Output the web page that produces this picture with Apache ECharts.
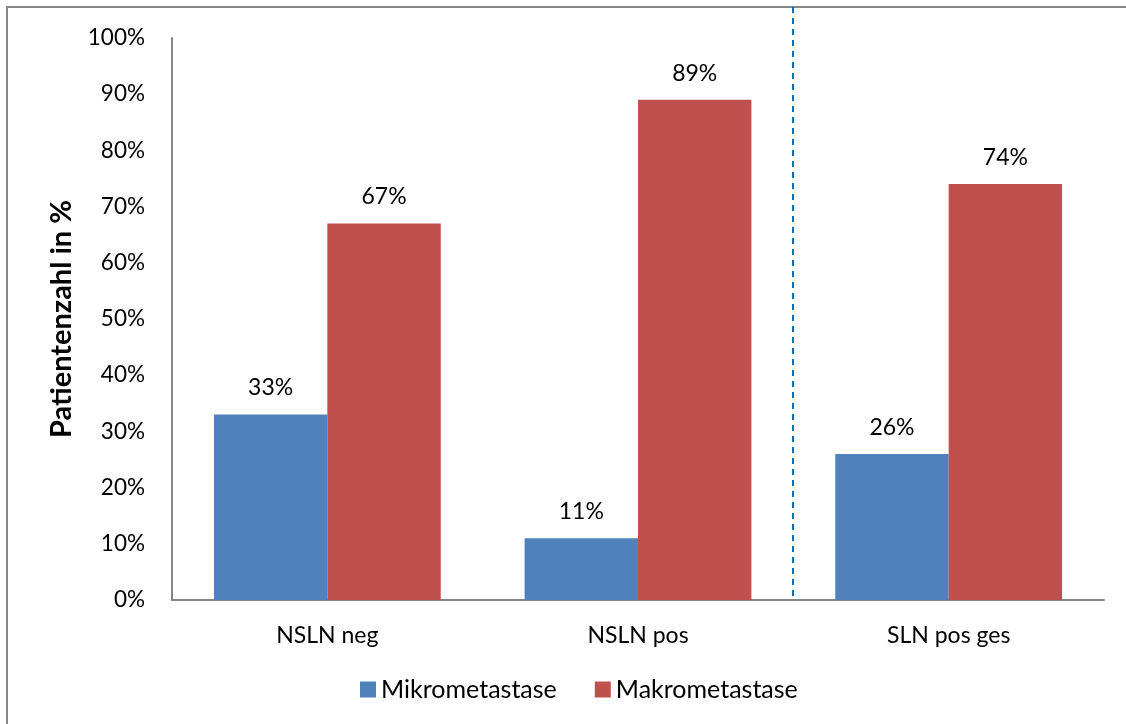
<!DOCTYPE html>
<html>
<head>
<meta charset="utf-8">
<script src="https://cdn.jsdelivr.net/npm/echarts@6/dist/echarts.min.js"></script>
<style>
  html, body { margin: 0; padding: 0; background: #fff; }
  #chart { width: 1126px; height: 724px; }
</style>
</head>
<body>
<div id="chart"></div>
<script>
// Kategorien und Anteile (in %)
const categories = ['NSLN neg', 'NSLN pos', 'SLN pos ges'];
const mikroValues = [33, 11, 26];
const makroValues = [67, 89, 74];
const yTicks = [0, 10, 20, 30, 40, 50, 60, 70, 80, 90, 100];

const FONT = 'Lato, "Open Sans", sans-serif';
const chart = echarts.init(document.getElementById('chart'), null, { renderer: 'canvas' });

const labelStyle = {
  show: true,
  position: 'top',
  distance: 15,
  formatter: p => p.value + '%',
  fontFamily: FONT,
  fontSize: 23,
  color: '#000'
};

chart.setOption({
  animation: false,
  backgroundColor: '#fff',
  textStyle: { fontFamily: FONT },
  grid: { left: 172, right: 22, top: 38, bottom: 124, containLabel: false },
  legend: {
    bottom: 17,
    left: 355,
    itemWidth: 16,
    itemHeight: 16,
    itemGap: 38,
    icon: 'rect',
    textStyle: { fontFamily: FONT, fontSize: 25, color: '#000' },
    data: ['Mikrometastase', 'Makrometastase']
  },
  xAxis: {
    type: 'category',
    data: categories,
    axisLine: { lineStyle: { color: '#868686', width: 2 } },
    axisTick: { show: false },
    axisLabel: { fontFamily: FONT, fontSize: 23, color: '#000', margin: 24 }
  },
  yAxis: {
    type: 'value',
    min: yTicks[0],
    max: yTicks[yTicks.length - 1],
    interval: 10,
    name: 'Patientenzahl in %',
    nameLocation: 'middle',
    nameGap: 96,
    nameTextStyle: { fontFamily: FONT, fontSize: 29, fontWeight: 'bold', color: '#000' },
    axisLine: { show: true, lineStyle: { color: '#868686', width: 2 } },
    axisTick: { show: false },
    splitLine: { show: false },
    axisLabel: { fontFamily: FONT, fontSize: 22.5, color: '#000', margin: 27, formatter: v => v + '%' }
  },
  series: [
    {
      name: 'Mikrometastase',
      type: 'bar',
      data: mikroValues,
      barGap: '0%',
      barCategoryGap: '27%',
      itemStyle: { color: '#4F81BD' },
      label: labelStyle
    },
    {
      name: 'Makrometastase',
      type: 'bar',
      data: makroValues,
      barGap: '0%',
      barCategoryGap: '27%',
      itemStyle: { color: '#C0504D' },
      label: labelStyle
    }
  ]
});

// Trennlinie zwischen "NSLN pos" und "SLN pos ges" sowie Rahmen
const x1 = chart.convertToPixel({ xAxisIndex: 0 }, categories[1]);
const x2 = chart.convertToPixel({ xAxisIndex: 0 }, categories[2]);
const sepX = Math.round((x1 + x2) / 2);
const baseY = chart.convertToPixel({ yAxisIndex: 0 }, 0);

chart.setOption({
  graphic: [
    {
      type: 'rect',
      shape: { x: 7, y: 7, width: 1300, height: 900 },
      style: { fill: 'none', stroke: '#888', lineWidth: 2 },
      silent: true,
      z: 100
    },
    {
      type: 'line',
      shape: { x1: sepX, y1: 7, x2: sepX, y2: baseY },
      style: { stroke: '#0070C0', lineWidth: 2, lineDash: [6, 5] },
      silent: true,
      z: 100
    }
  ]
});
</script>
</body>
</html>
